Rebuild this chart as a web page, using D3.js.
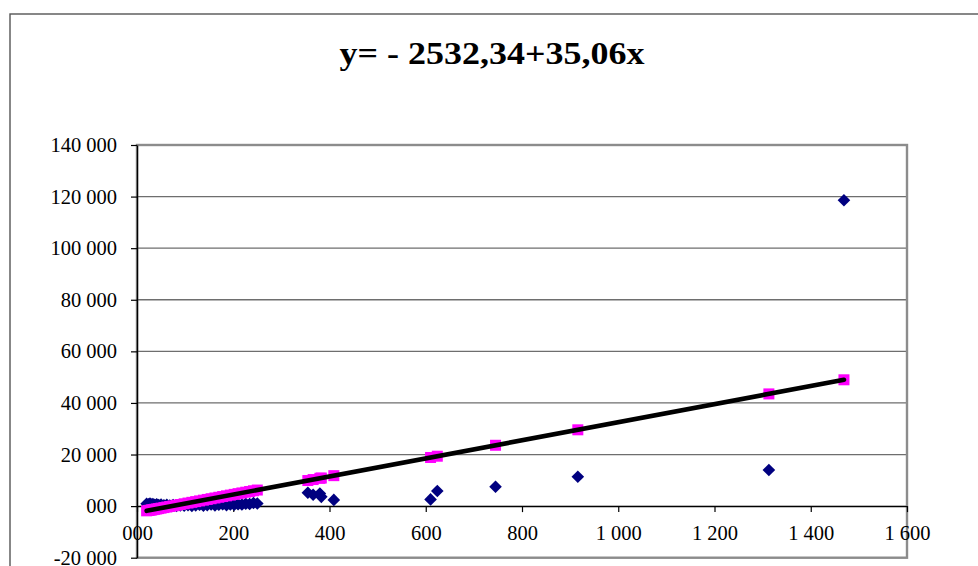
<!DOCTYPE html>
<meta charset="utf-8">
<style>
body { margin: 0; background: #fff; }
text { font-family: "Liberation Serif", "Times New Roman", serif; }
.tick text { font-size: 20.5px; fill: #000; }
.tick line { stroke: #000; stroke-width: 1.2; }
.grid line { stroke: #6e6e6e; stroke-width: 1.3; }
</style>
<svg width="978" height="566"></svg>
<script src="https://cdnjs.cloudflare.com/ajax/libs/d3/7.8.5/d3.min.js"></script>
<script>

var titleText = "y= - 2532,34+35,06x";

// observed values (x, actual y)
var xs = [20, 24, 27, 30, 33, 37, 41, 45, 50, 56, 62, 68, 75, 82, 90, 98, 106, 114,
          122, 130, 138, 146, 154, 162, 170, 178, 186, 194, 202, 210, 218, 226, 234,
          242, 250, 355, 366, 380, 383, 409, 610, 624, 745, 916, 1313, 1469];

var actual = [900, 700, 1000, 600, 800, 500, 700, 400, 600, 300, 500, 200, 400, 100,
              300, 200, 400, 100, 300, 500, 200, 400, 600, 300, 500, 700, 400, 600,
              500, 700, 600, 900, 800, 1200, 1000, 5200, 4400, 4900, 3600, 2400,
              2600, 5850, 7500, 11400, 14000, 118600];

// fitted values
var predicted = [-1831, -1691, -1586, -1481, -1375, -1235, -1095, -955, -779, -569,
                 -359, -148, 97, 343, 623, 904, 1184, 1464, 1745, 2025, 2306, 2586,
                 2867, 3147, 3428, 3708, 3989, 4269, 4550, 4830, 5111, 5391, 5672,
                 5952, 6233, 9914, 10300, 10791, 10896, 11807, 18854, 19345, 23588,
                 29583, 43501, 48971];

var xTicks = [0, 200, 400, 600, 800, 1000, 1200, 1400, 1600];
var xTickLabels = ["000", "200", "400", "600", "800", "1 000", "1 200", "1 400", "1 600"];
var yTicks = [-20000, 0, 20000, 40000, 60000, 80000, 100000, 120000, 140000];
var yTickLabels = ["-20 000", "000", "20 000", "40 000", "60 000", "80 000", "100 000", "120 000", "140 000"];

var svg = d3.select("svg");

var plotLeft = 137, plotRight = 907, plotTop = 145, plotBottom = 557.7;

var x = d3.scaleLinear().domain([0, 1600]).range([plotLeft, plotRight]);
var y = d3.scaleLinear().domain([-20000, 140000]).range([plotBottom, plotTop]);

// chart area border (runs off the page right and bottom)
svg.append("rect")
  .attr("x", 10).attr("y", 14)
  .attr("width", 1000).attr("height", 600)
  .attr("fill", "none")
  .attr("stroke", "#555")
  .attr("stroke-width", 1.4);

svg.append("text")
  .attr("x", 492)
  .attr("y", 64)
  .attr("text-anchor", "middle")
  .attr("font-size", 31)
  .attr("font-weight", "bold")
  .attr("textLength", 305)
  .attr("lengthAdjust", "spacingAndGlyphs")
  .text(titleText);

// gridlines
svg.append("g").attr("class", "grid")
  .selectAll("line")
  .data(yTicks)
  .enter().append("line")
  .attr("x1", plotLeft).attr("x2", plotRight)
  .attr("y1", function(d) { return y(d); })
  .attr("y2", function(d) { return y(d); });

// plot border
svg.append("rect")
  .attr("x", plotLeft).attr("y", plotTop)
  .attr("width", plotRight - plotLeft).attr("height", plotBottom - plotTop)
  .attr("fill", "none")
  .attr("stroke", "#8c8c8c")
  .attr("stroke-width", 2.4);

var yAxis = svg.append("g")
  .attr("transform", "translate(" + plotLeft + ",0)")
  .call(d3.axisLeft(y).tickValues(yTicks)
    .tickFormat(function(d, i) { return yTickLabels[i]; })
    .tickSize(6).tickSizeOuter(0).tickPadding(14));
yAxis.select(".domain").attr("stroke", "#000").attr("stroke-width", 1.4);

var xAxis = svg.append("g")
  .attr("transform", "translate(0," + y(0) + ")")
  .call(d3.axisBottom(x).tickValues(xTicks)
    .tickFormat(function(d, i) { return xTickLabels[i]; })
    .tickSize(6).tickSizeOuter(0).tickPadding(13));
xAxis.select(".domain").attr("stroke", "#000").attr("stroke-width", 1.2);

svg.selectAll("g").filter(function() { return this.getAttribute("font-family"); })
  .attr("font-family", null).attr("font-size", null);

var pts = xs.map(function(v, i) { return { x: v, a: actual[i], p: predicted[i] }; });

// actual values: navy diamonds
svg.append("g")
  .selectAll("path")
  .data(pts)
  .enter().append("path")
  .attr("d", "M0,-6.3L6.3,0L0,6.3L-6.3,0Z")
  .attr("fill", "#000080")
  .attr("transform", function(d) { return "translate(" + x(d.x) + "," + y(d.a) + ")"; });

// fitted values: magenta squares
svg.append("g")
  .selectAll("rect")
  .data(pts)
  .enter().append("rect")
  .attr("x", function(d) { return x(d.x) - 5.5; })
  .attr("y", function(d) { return y(d.p) - 5.5; })
  .attr("width", 11).attr("height", 11)
  .attr("fill", "#ff00ff");

// regression line
var line = d3.line()
  .x(function(d) { return x(d.x); })
  .y(function(d) { return y(d.p); });

svg.append("path")
  .datum([pts[0], pts[pts.length - 1]])
  .attr("d", line)
  .attr("fill", "none")
  .attr("stroke", "#000")
  .attr("stroke-width", 4.6)
  .attr("stroke-linecap", "round");

</script>
